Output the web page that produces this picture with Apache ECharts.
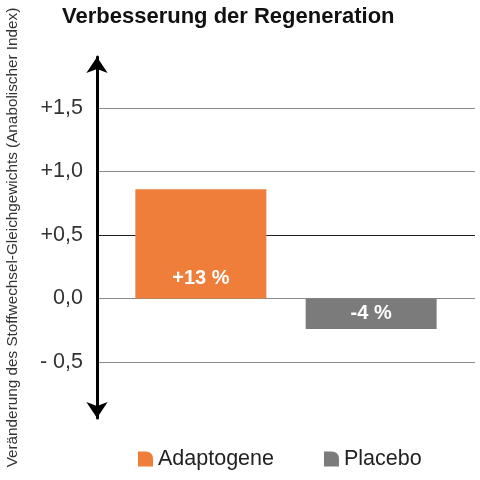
<!DOCTYPE html>
<html><head><meta charset="utf-8">
<script src="https://cdn.jsdelivr.net/npm/echarts@6/dist/echarts.min.js"></script>
<style>html,body{margin:0;padding:0;background:#fff}#c{width:480px;height:480px}</style>
</head><body><div id="c"></div>
<script>
const title = 'Verbesserung der Regeneration';
const yName = 'Veränderung des Stoffwechsel-Gleichgewichts (Anabolischer Index)';
const seriesNames = ['Adaptogene', 'Placebo'];
const values = [0.86, -0.24];
const barLabels = ['+13 %', '-4 %'];
const tickValues = [-0.5, 0, 0.5, 1.0, 1.5];
const tickLabels = ['- 0,5', '0,0', '+0,5', '+1,0', '+1,5'];
const colors = ['#EE7E3A', '#7B7B7B'];

const chart = echarts.init(document.getElementById('c'));
const font = 'Liberation Sans, Arial, sans-serif';
chart.setOption({
  animation: false,
  textStyle: {fontFamily: font},
  title: {text: title, left: 57, top: 1, textStyle: {fontSize: 22, fontWeight: 'bold', color: '#111', fontFamily: font}},
  legend: {
    bottom: 5, left: 133, itemGap: 50, itemWidth: 15, itemHeight: 15,
    icon: 'path://M0,0 L7,0 Q14,0 14,7 L14,14 L0,14 Z',
    textStyle: {fontSize: 21.5, color: '#222', fontFamily: font},
    data: seriesNames
  },
  grid: {left: 97, right: 5, top: 57, bottom: 62, outerBoundsMode: 'none', containLabel: false},
  xAxis: {type: 'category', data: [''], axisLine: {show: false}, axisTick: {show: false}, axisLabel: {show: false}},
  yAxis: {
    type: 'value', min: -0.94, max: 1.9,
    name: yName, nameLocation: 'middle', nameRotate: 90, nameGap: 77,
    nameTextStyle: {fontSize: 15.3, color: '#333', fontFamily: font},
    axisLine: {show: true, symbol: ['arrow', 'arrow'], symbolSize: [16, 16], lineStyle: {color: '#000', width: 3}},
    axisTick: {show: false, customValues: tickValues},
    axisLabel: {
      customValues: tickValues, margin: 14, fontSize: 21.5, color: '#333', fontFamily: font,
      formatter: v => { const i = tickValues.findIndex(t => Math.abs(t - v) < 1e-6); return i >= 0 ? tickLabels[i] : ''; }
    },
    splitLine: {show: true, lineStyle: {color: ['#8a8a8a', '#8a8a8a', '#222', '#8a8a8a', '#8a8a8a'], width: 1}}
  },
  series: seriesNames.map((n, i) => ({
    name: n, type: 'bar', barWidth: 131, barGap: '30%',
    itemStyle: {color: colors[i]},
    data: [values[i]],
    label: {
      show: true, formatter: barLabels[i],
      position: i === 0 ? 'insideBottom' : 'inside', distance: 10,
      color: '#fff', fontSize: 20, fontWeight: 'bold', fontFamily: font
    }
  }))
});
</script></body></html>
